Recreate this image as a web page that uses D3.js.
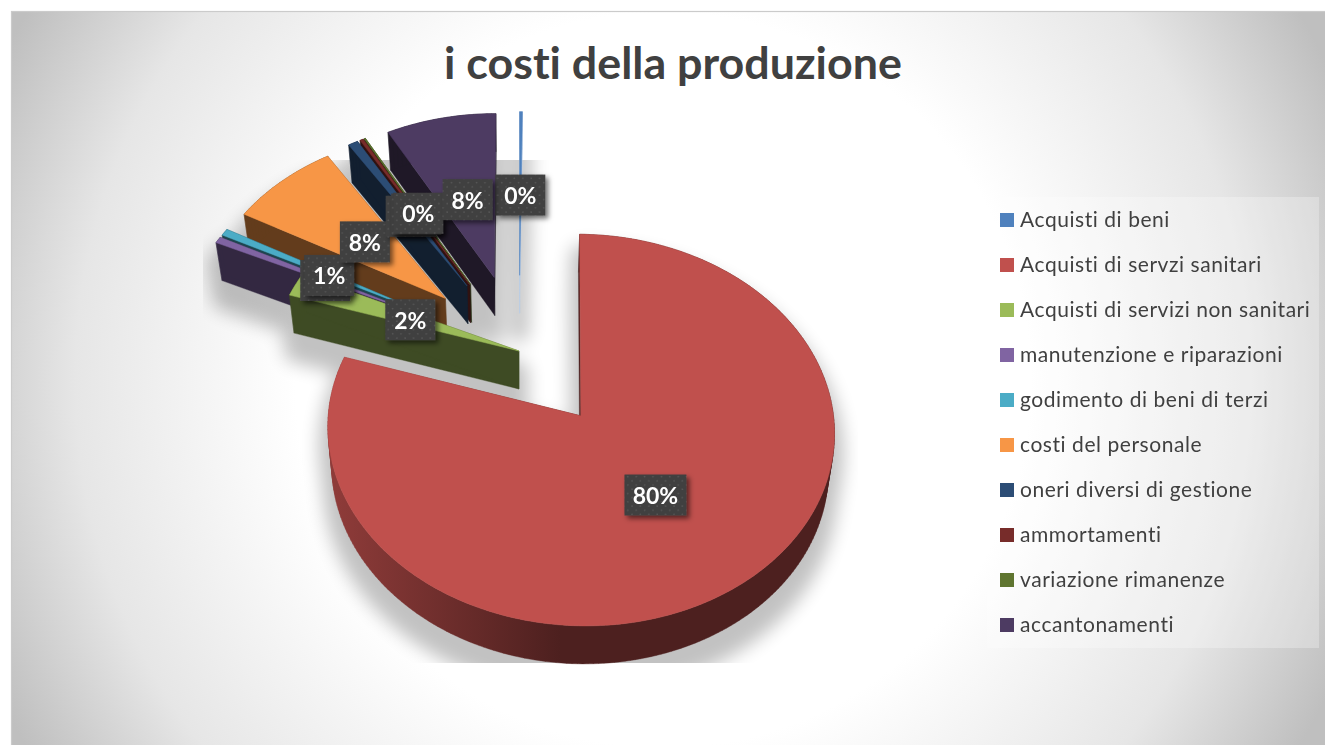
<!DOCTYPE html>
<html>
<head>
<meta charset="utf-8">
<script src="https://cdn.jsdelivr.net/npm/d3@7"></script>
<style>
  body { margin: 0; background: #fff; }
  svg { display: block; }
  text { font-family: Lato, Carlito, sans-serif; font-variant-ligatures: none; }
</style>
</head>
<body>
<script>
// values, in percent
var categories = ["Acquisti di beni", "Acquisti di servzi sanitari", "Acquisti di servizi non sanitari",
  "manutenzione e riparazioni", "godimento di beni di terzi", "costi del personale",
  "oneri diversi di gestione", "ammortamenti", "variazione rimanenze", "accantonamenti"];
var values = [0.2, 79.7, 2, 0.55, 0.6, 7.9, 0.7, 0.25, 0.1, 7.9];
var colors = ["#4f81bd", "#c0504d", "#9bbb59", "#8064a2", "#4bacc6", "#f79646", "#2c4d75", "#772c2a", "#5f7530", "#4d3b62"];
var notExploded = ["Acquisti di servizi non sanitari"];
// these labels sit under another label's box in the picture
var coveredLabels = ["manutenzione e riparazioni", "oneri diversi di gestione", "ammortamenti"];
var chartTitle = "i costi della produzione";

var width = 1325, height = 745;

// the pie is a tilted disc seen in perspective
var view = { cx: 519, cy: 351, fx: 246.5, fy: 185.5, k: 0.0708, depth: 38, explode: 0.42, squeeze: 0.98 };

var project = function (X, Y) {
  var w = 1 - view.k * Y;
  return [view.cx + view.fx * X / w, view.cy + view.fy * Y / w];
};

var dropDown = function (p) {
  return [view.cx + (p[0] - view.cx) * view.squeeze, p[1] + view.depth];
};

var total = d3.sum(values);
var pie = d3.pie().sort(null).value(function (d) { return d; })(values);

var slices = pie.map(function (a, i) {
  var mid = (a.startAngle + a.endAngle) / 2;
  var e = notExploded.indexOf(categories[i]) >= 0 ? 0 : view.explode;
  var ox = e * Math.sin(mid), oy = -e * Math.cos(mid);
  var n = Math.max(2, Math.ceil((a.endAngle - a.startAngle) / 0.02));
  var face = [project(ox, oy)];
  d3.range(n + 1).forEach(function (j) {
    var t = a.startAngle + (a.endAngle - a.startAngle) * j / n;
    face.push(project(ox + Math.sin(t), oy - Math.cos(t)));
  });
  return {
    i: i, name: categories[i], value: values[i], color: colors[i], face: face,
    label: project(ox + 0.48 * Math.sin(mid), oy - 0.48 * Math.cos(mid))
  };
});

// back to front
var order = [0].concat(d3.range(9, 0, -1));

var line = d3.line();
var shut = function (pts) {
  // same winding everywhere or the pieces cancel out when joined in one path
  return line(d3.polygonArea(pts) < 0 ? pts.slice().reverse() : pts) + "Z";
};

var svg = d3.select("body").append("svg").attr("width", width).attr("height", height);
var defs = svg.append("defs");

var bg = defs.append("radialGradient").attr("id", "bg").attr("gradientUnits", "userSpaceOnUse")
  .attr("cx", 663).attr("cy", 380).attr("r", 735);
bg.append("stop").attr("offset", 0.5).attr("stop-color", "#fff");
bg.append("stop").attr("offset", 0.8).attr("stop-color", "#e6e6e6");
bg.append("stop").attr("offset", 1).attr("stop-color", "#bfbfbf");

var shade = function (c, f) {
  var r = d3.rgb(c);
  return d3.rgb(r.r * f, r.g * f, r.b * f).formatHex();
};

var redSide = defs.append("linearGradient").attr("id", "redSide").attr("gradientUnits", "userSpaceOnUse")
  .attr("x1", 335).attr("x2", 560).attr("y1", 0).attr("y2", 0);
redSide.append("stop").attr("offset", 0).attr("stop-color", shade(colors[1], 0.74));
redSide.append("stop").attr("offset", 1).attr("stop-color", shade(colors[1], 0.4));

defs.append("filter").attr("id", "blur")
  .attr("filterUnits", "userSpaceOnUse").attr("x", 0).attr("y", 0).attr("width", width).attr("height", height)
  .append("feGaussianBlur").attr("stdDeviation", 9);

var ds = defs.append("filter").attr("id", "boxShadow").attr("x", "-30%").attr("y", "-30%").attr("width", "170%").attr("height", "170%");
ds.append("feDropShadow").attr("dx", 3).attr("dy", 3).attr("stdDeviation", 2.5)
  .attr("flood-color", "#000").attr("flood-opacity", 0.55);

var dots = defs.append("pattern").attr("id", "dots").attr("patternUnits", "userSpaceOnUse")
  .attr("width", 8.4).attr("height", 8.4);
dots.append("rect").attr("width", 8.4).attr("height", 8.4).attr("fill", "#3f3f3f");
dots.append("circle").attr("cx", 2).attr("cy", 2).attr("r", 0.9).attr("fill", "#565656");
dots.append("circle").attr("cx", 6.2).attr("cy", 6.2).attr("r", 0.9).attr("fill", "#565656");

defs.append("clipPath").attr("id", "plotClip").append("rect")
  .attr("x", 203).attr("y", 160).attr("width", 655).attr("height", 503);

// slide
svg.append("rect").attr("x", 11.5).attr("y", 11.5).attr("width", width).attr("height", height)
  .attr("fill", "url(#bg)").attr("stroke", "#cbcbcb").attr("stroke-width", 1.2);

svg.append("text").attr("x", 673).attr("y", 79).attr("text-anchor", "middle")
  .attr("font-size", 44.8).attr("font-weight", 700).attr("fill", "#404040").text(chartTitle);

var sideQuads = function (s) {
  var pts = s.face, quads = [];
  pts.forEach(function (p, j) {
    var q = pts[(j + 1) % pts.length];
    quads.push(shut([p, q, dropDown(q), dropDown(p)]));
  });
  return quads.join("");
};

// soft shadow, falls below the slices and is cut off by the plot area
var shadow = svg.append("g").attr("clip-path", "url(#plotClip)")
  .append("g").attr("filter", "url(#blur)").attr("opacity", 0.24);
order.forEach(function (i) {
  var s = slices[i];
  shadow.append("path").attr("d", sideQuads(s) + shut(s.face)).attr("transform", "translate(0,20)")
    .attr("fill", "#000").attr("stroke", "#000").attr("stroke-width", 18).attr("stroke-linejoin", "round");
});

var pieG = svg.append("g");
order.forEach(function (i) {
  var s = slices[i];
  var g = pieG.append("g");
  var sideFill = i === 1 ? "url(#redSide)" : (i === 0 ? "#b9cde6" : shade(s.color, 0.4));
  g.append("path").attr("d", sideQuads(s)).attr("fill", sideFill).attr("stroke", sideFill).attr("stroke-width", 0.4);
  g.append("path").attr("d", shut(s.face)).attr("fill", s.color).attr("stroke", s.color).attr("stroke-width", 0.5);
});

// data labels, boxes first so the covered ones stay hidden
var fmt = d3.format(".0f");
var labelG = svg.append("g");
slices.forEach(function (s) {
  var txt = fmt(s.value / total * 100) + "%";
  var w = txt.length > 2 ? 62 : 50, h = 41;
  labelG.append("rect").attr("x", s.label[0] - w / 2).attr("y", s.label[1] + 1 - h / 2).attr("width", w).attr("height", h)
    .attr("fill", "url(#dots)").attr("filter", "url(#boxShadow)");
});
slices.forEach(function (s) {
  if (coveredLabels.indexOf(s.name) >= 0) return;
  labelG.append("text").attr("text-anchor", "middle").attr("x", s.label[0]).attr("y", s.label[1] + 10)
    .attr("font-size", 23).attr("font-weight", 700).attr("fill", "#fff")
    .text(fmt(s.value / total * 100) + "%");
});

// legend
svg.append("rect").attr("x", 987).attr("y", 197).attr("width", 332).attr("height", 451)
  .attr("fill", "#fff").attr("fill-opacity", 0.28);

var legendY = d3.scalePoint().domain(categories).range([220, 625]);
var legend = svg.selectAll("g.legend").data(categories).enter().append("g").attr("class", "legend")
  .attr("transform", function (d) { return "translate(1000," + legendY(d) + ")"; });
legend.append("rect").attr("y", -7).attr("width", 14).attr("height", 14)
  .attr("fill", function (d, i) { return colors[i]; });
legend.append("text").attr("x", 20).attr("y", 7).attr("font-size", 21).attr("letter-spacing", 0.55).attr("fill", "#404040")
  .text(function (d) { return d; });
</script>
</body>
</html>
